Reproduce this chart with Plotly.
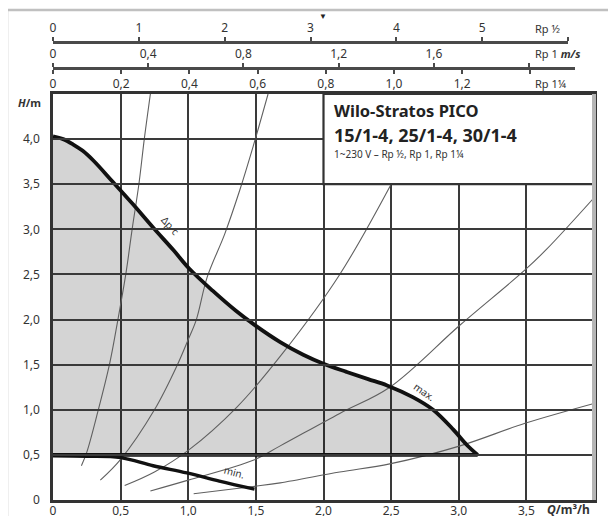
import plotly.graph_objects as go

# ---------------- data ----------------
# main axes (flow Q in m3/h, head H in m)
q_ticks = [0, 0.5, 1.0, 1.5, 2.0, 2.5, 3.0, 3.5]
q_tick_text = ["0", "0,5", "1,0", "1,5", "2,0", "2,5", "3,0", "3,5"]
h_ticks = [0, 0.5, 1.0, 1.5, 2.0, 2.5, 3.0, 3.5, 4.0]
h_tick_text = ["0", "0,5", "1,0", "1,5", "2,0", "2,5", "3,0", "3,5", "4,0"]

# velocity scales (m/s) for the three pipe sizes
v_half_ticks = [0, 1, 2, 3, 4, 5, 6]
v_half_text = ["0", "1", "2", "3", "4", "5", ""]
v_one_ticks = [0, 0.4, 0.8, 1.2, 1.6, 2.0]
v_one_text = ["0", "0,4", "0,8", "1,2", "1,6", ""]
v_quarter_ticks = [0, 0.2, 0.4, 0.6, 0.8, 1.0, 1.2, 1.4]
v_quarter_text = ["0", "0,2", "0,4", "0,6", "0,8", "1,0", "1,2", ""]

# max / Δp-c curve
max_q = [0, 0.075, 0.15, 0.22, 0.30, 0.44, 0.59, 0.74, 0.89, 1.01, 1.18, 1.35,
         1.50, 1.68, 1.85, 2.00, 2.17, 2.33, 2.47, 2.66, 2.81, 2.96, 3.06, 3.14]
max_h = [4.03, 4.00, 3.94, 3.87, 3.76, 3.53, 3.28, 3.02, 2.77, 2.56, 2.32, 2.10,
         1.93, 1.75, 1.61, 1.51, 1.42, 1.34, 1.27, 1.14, 1.00, 0.78, 0.61, 0.50]
# min curve
min_q = [0, 0.25, 0.50, 0.74, 0.99, 1.23, 1.49]
min_h = [0.49, 0.485, 0.47, 0.38, 0.30, 0.21, 0.12]
# lower limit line of the control range
base_q = [0, 3.14]
base_h = [0.5, 0.5]

# system curves
sys1_q = [0.21, 0.25, 0.33, 0.42, 0.48, 0.54, 0.585, 0.635, 0.675, 0.72]
sys1_h = [0.38, 0.53, 0.97, 1.52, 2.00, 2.52, 3.00, 3.50, 4.00, 4.50]
sys2_q = [0.35, 0.50, 0.75, 0.92, 1.00, 1.06, 1.14, 1.27, 1.38, 1.48, 1.59]
sys2_h = [0.22, 0.45, 1.00, 1.50, 1.78, 2.00, 2.47, 2.95, 3.43, 3.92, 4.50]
sys3_q = [0.53, 0.75, 1.00, 1.36, 1.70, 2.12, 2.50]
sys3_h = [0.16, 0.31, 0.55, 1.03, 1.63, 2.50, 3.50]
sys4_q = [0.72, 1.00, 1.48, 1.68, 2.12, 2.49, 3.01, 3.49, 3.65, 4.00]
sys4_h = [0.10, 0.22, 0.44, 0.60, 0.96, 1.25, 1.94, 2.55, 2.78, 3.35]
sys5_q = [1.04, 1.48, 1.68, 2.12, 2.49, 3.01, 3.49, 4.00]
sys5_h = [0.07, 0.15, 0.19, 0.31, 0.40, 0.60, 0.85, 1.07]
system_curves = [(sys1_q, sys1_h), (sys2_q, sys2_h), (sys3_q, sys3_h),
                 (sys4_q, sys4_h), (sys5_q, sys5_h)]

title_lines = ["Wilo-Stratos PICO", "15/1-4, 25/1-4, 30/1-4",
               "1~230 V – Rp ½, Rp 1, Rp 1¼"]

# ---------------- figure ----------------
FONT = "Noto Sans"
TXT = "#333333"
GRID = "#3a3a3a"

fig = go.Figure()

# shaded control range
fig.add_trace(go.Scatter(
    x=max_q + [base_q[0]], y=max_h + [base_h[0]],
    mode="lines", fill="toself", fillcolor="rgba(0,0,0,0.17)",
    line=dict(width=0), hoverinfo="skip", showlegend=False))

for sq, sh in system_curves:
    fig.add_trace(go.Scatter(x=sq, y=sh, mode="lines",
                             line=dict(color="#606060", width=1.1, shape="spline"),
                             hoverinfo="skip", showlegend=False))

fig.add_trace(go.Scatter(x=base_q, y=base_h, mode="lines",
                         line=dict(color="#111111", width=3.8),
                         showlegend=False))
fig.add_trace(go.Scatter(x=min_q, y=min_h, mode="lines",
                         line=dict(color="#111111", width=3.4, shape="spline"),
                         showlegend=False))
fig.add_trace(go.Scatter(x=max_q, y=max_h, mode="lines",
                         line=dict(color="#111111", width=3.8, shape="spline",
                                   smoothing=1.0),
                         showlegend=False))

# dummy traces so that the velocity scales are drawn
for ax in ["x2", "x3", "x4"]:
    fig.add_trace(go.Scatter(x=[None], y=[None], xaxis=ax, yaxis="y",
                             mode="lines", hoverinfo="skip", showlegend=False))

ydom_top = 406 / 490
row1 = (500 - 42) / 490
row2 = (500 - 68) / 490

tickfont = dict(family=FONT, size=12, color=TXT)
top_axis = dict(anchor="free", showgrid=False, zeroline=False, showline=True,
                linecolor="#4a4a4a", linewidth=2.5, ticks="outside", ticklen=4,
                tickwidth=2, tickcolor="#4a4a4a", tickfont=tickfont,
                fixedrange=True, automargin=False)

fig.update_layout(
    width=616, height=516, autosize=False,
    margin=dict(l=45, r=30, t=2, b=24, autoexpand=False),
    paper_bgcolor="white", plot_bgcolor="rgba(0,0,0,0)",
    font=dict(family=FONT, color=TXT),
    xaxis=dict(domain=[0, 1], range=[0, 4], tickvals=q_ticks, ticktext=q_tick_text,
               showgrid=True, gridcolor=GRID, gridwidth=2, zeroline=False,
               showline=True, linecolor="#333333", linewidth=2.5, mirror=True,
               ticks="", ticklabelstandoff=-2,
               tickfont=tickfont, automargin=False),
    yaxis=dict(domain=[0, ydom_top], range=[0, 4.5], tickvals=h_ticks,
               ticktext=h_tick_text, showgrid=True, gridcolor=GRID, gridwidth=2,
               zeroline=False, showline=True, linecolor="#333333", linewidth=2.5,
               mirror=True, ticks="outside", ticklen=8,
               tickcolor="rgba(0,0,0,0)", tickfont=tickfont, automargin=False),
    xaxis2=dict(top_axis, domain=[0, 0.952], range=[0, 6], position=row1,
                side="top", tickvals=v_half_ticks, ticktext=v_half_text),
    xaxis3=dict(top_axis, domain=[0, 0.965], range=[0, 2.193], position=row2,
                side="top", tickvals=v_one_ticks, ticktext=v_one_text),
    xaxis4=dict(top_axis, domain=[0, 0.965], range=[0, 1.531], position=row2,
                side="bottom", tickvals=v_quarter_ticks, ticktext=v_quarter_text),
)

# info box
fig.add_shape(type="rect", xref="x", yref="y", x0=2.0, x1=4.0, y0=3.5, y1=4.5,
              fillcolor="white", line=dict(color="#333333", width=2.2), layer="above")
# right plot border (light grey) and outer frame
fig.add_shape(type="line", xref="paper", yref="paper", x0=1, x1=1, y0=0, y1=ydom_top,
              line=dict(color="#b5b5b5", width=4), layer="above")
fig.add_shape(type="line", xref="paper", yref="paper", x0=-0.085, x1=-0.085,
              y0=-0.05, y1=1.0, line=dict(color="#c0c0c0", width=2.5), layer="above")
fig.add_shape(type="line", xref="paper", yref="paper", x0=-0.085, x1=1.06,
              y0=1.0, y1=1.0, line=dict(color="#c0c0c0", width=2.5), layer="above")

ann = []
box_x = 2.063
ann.append(dict(x=box_x, y=4.32, xref="x", yref="y", text="<b>" + title_lines[0] + "</b>",
                xanchor="left", yanchor="middle", showarrow=False,
                font=dict(family=FONT, size=16.5, color="#222222")))
ann.append(dict(x=box_x, y=4.05, xref="x", yref="y", text="<b>" + title_lines[1] + "</b>",
                xanchor="left", yanchor="middle", showarrow=False,
                font=dict(family=FONT, size=18, color="#222222")))
ann.append(dict(x=box_x, y=3.84, xref="x", yref="y", text=title_lines[2],
                xanchor="left", yanchor="middle", showarrow=False,
                font=dict(family=FONT, size=10, color="#333333")))
# curve labels
ann.append(dict(x=0.872, y=3.04, xref="x", yref="y", text="Δp-c", textangle=48,
                showarrow=False, font=dict(family=FONT, size=10, color="#333333")))
ann.append(dict(x=2.75, y=1.2, xref="x", yref="y", text="max.", textangle=35,
                showarrow=False, font=dict(family=FONT, size=10, color="#333333")))
ann.append(dict(x=1.34, y=0.31, xref="x", yref="y", text="min.", textangle=15,
                showarrow=False, font=dict(family=FONT, size=10, color="#333333")))
# axis titles
ann.append(dict(x=-0.0185, y=4.41, xref="paper", yref="y", text="<b><i>H</i>/m</b>",
                xanchor="right", yanchor="middle", showarrow=False,
                font=dict(family=FONT, size=11, color=TXT)))
ann.append(dict(x=3.64, y=(500 - 509) / 490, xref="x", yref="paper",
                text="<b><i>Q</i>/m³/h</b>", xanchor="left", yanchor="middle",
                showarrow=False, font=dict(family=FONT, size=12, color=TXT)))
# velocity scale labels
lab_x = (533 - 53) / 541
ann.append(dict(x=lab_x, y=(500 - 28) / 490, xref="paper", yref="paper", text="Rp ½",
                xanchor="left", yanchor="middle", showarrow=False,
                font=dict(family=FONT, size=11, color=TXT)))
ann.append(dict(x=lab_x, y=(500 - 53) / 490, xref="paper", yref="paper",
                text="Rp 1 <b><i>m/s</i></b>", xanchor="left", yanchor="middle",
                showarrow=False, font=dict(family=FONT, size=11, color=TXT)))
ann.append(dict(x=lab_x, y=(500 - 83) / 490, xref="paper", yref="paper", text="Rp 1¼",
                xanchor="left", yanchor="middle", showarrow=False,
                font=dict(family=FONT, size=11, color=TXT)))
ann.append(dict(x=3.15, y=(500 - 15) / 490, xref="x2", yref="paper", text="▼",
                xanchor="center", yanchor="middle", showarrow=False,
                font=dict(family=FONT, size=8, color="#222222")))
fig.update_layout(annotations=ann)

fig.write_html("out.html")
